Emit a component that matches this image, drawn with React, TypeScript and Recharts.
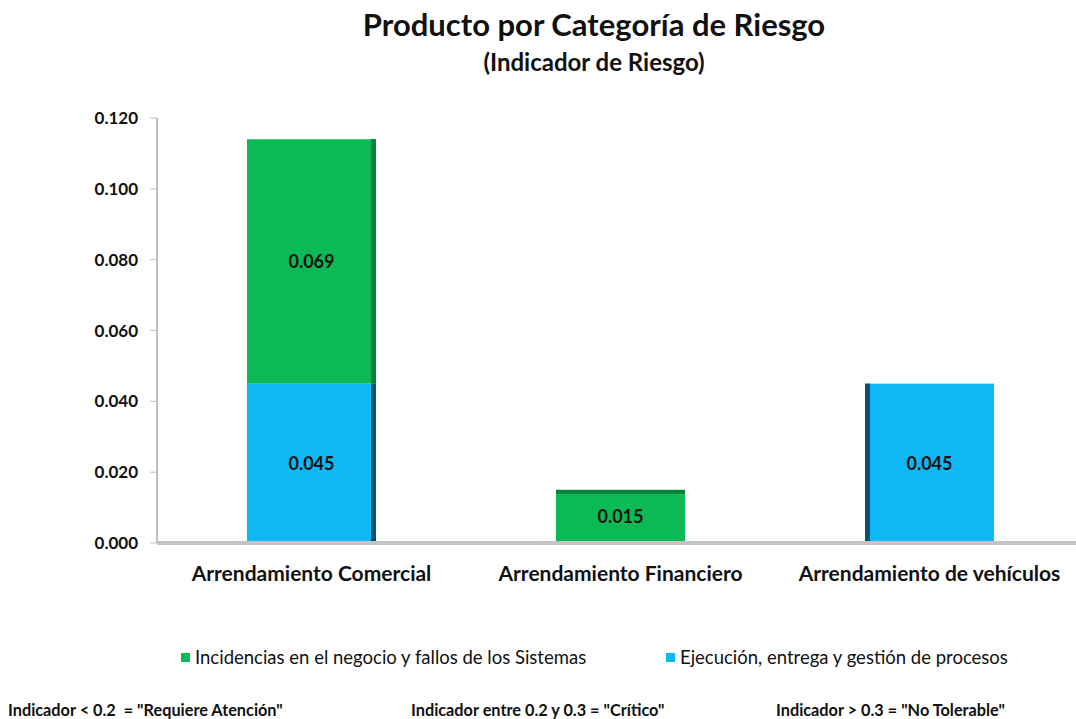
import { BarChart, Bar, XAxis, YAxis, LabelList } from "recharts";

const categories = ["Arrendamiento Comercial", "Arrendamiento Financiero", "Arrendamiento de vehículos"];
const incidencias = [0.069, 0.015, null];
const ejecucion = [0.045, null, 0.045];
const yTicks = [0, 0.02, 0.04, 0.06, 0.08, 0.1, 0.12];
const footerNotes = [
  'Indicador < 0.2  = "Requiere Atención"',
  'Indicador entre 0.2 y 0.3 = "Crítico"',
  'Indicador > 0.3 = "No Tolerable"',
];

const GREEN = "#0bba55";
const GREEN_DARK = "#07803a";
const BLUE = "#0db8f4";
const BLUE_DARK = "#04546f";
const FONT = "Lato, 'Open Sans', sans-serif";

const data = categories.map((c, i) => ({
  name: c,
  incidencias: incidencias[i],
  ejecucion: ejecucion[i],
}));

// bar with a darker side strip to mimic the 3D look
function Bar3D(props: any) {
  const { x, y, width, height, fill, dark, index } = props;
  if (!height || height <= 0) return null;
  const side = 5;
  return (
    <g>
      <rect x={x} y={y} width={width} height={height} fill={fill} />
      {index === 0 && <rect x={x + width - side} y={y} width={side} height={height} fill={dark} />}
      {index === 2 && <rect x={x} y={y} width={side} height={height} fill={dark} />}
      {index === 1 && <rect x={x} y={y} width={width} height={4} fill={dark} />}
    </g>
  );
}

const fmt = (v: any) => (v ? Number(v).toFixed(3) : "");
const labelStyle = { fontSize: 18, fontWeight: 700, fill: "#111", fontFamily: FONT };

export default function App() {
  return (
    <div style={{ position: "absolute", left: 0, top: 0, width: 1076, height: 719, background: "#fff", fontFamily: FONT }}>
      <div style={{ position: "absolute", top: 5, left: 94, width: 1000, textAlign: "center", fontSize: 31, fontWeight: 700, color: "#111" }}>
        Producto por Categoría de Riesgo
      </div>
      <div style={{ position: "absolute", top: 47, left: 94, width: 1000, textAlign: "center", fontSize: 24, fontWeight: 700, color: "#111" }}>
        (Indicador de Riesgo)
      </div>

      <BarChart
        width={1076}
        height={719}
        data={data}
        margin={{ top: 118, right: -8, left: 0, bottom: 116 }}
        style={{ position: "absolute", left: 0, top: 0 }}
      >
        <YAxis
          width={157}
          domain={[0, 0.12]}
          ticks={yTicks}
          interval={0}
          tickFormatter={(v) => Number(v).toFixed(3)}
          tick={{ fontSize: 17, fontWeight: 700, fill: "#111", fontFamily: FONT }}
          tickSize={7}
          tickMargin={12}
          axisLine={{ stroke: "#bfbfbf", strokeWidth: 2 }}
          tickLine={{ stroke: "#bfbfbf" }}
        />
        <XAxis
          dataKey="name"
          height={60}
          tick={{ fontSize: 21, fontWeight: 700, fill: "#111", fontFamily: FONT }}
          tickLine={false}
          tickMargin={17}
          axisLine={{ stroke: "#c4c4c4", strokeWidth: 4 }}
        />
        <Bar
          dataKey="ejecucion"
          stackId="a"
          barSize={129}
          fill={BLUE}
          isAnimationActive={false}
          shape={(p: any) => <Bar3D {...p} fill={BLUE} dark={BLUE_DARK} />}
        >
          <LabelList dataKey="ejecucion" position="center" formatter={fmt} style={labelStyle} />
        </Bar>
        <Bar
          dataKey="incidencias"
          stackId="a"
          barSize={129}
          fill={GREEN}
          isAnimationActive={false}
          shape={(p: any) => <Bar3D {...p} fill={GREEN} dark={GREEN_DARK} />}
        >
          <LabelList dataKey="incidencias" position="center" formatter={fmt} style={labelStyle} />
        </Bar>
      </BarChart>

      <div style={{ position: "absolute", top: 646, left: 181, display: "flex", alignItems: "center", fontSize: 18.5, color: "#111" }}>
        <span style={{ width: 9, height: 9, background: GREEN, marginRight: 5, display: "inline-block" }} />
        Incidencias en el negocio y fallos de los Sistemas
      </div>
      <div style={{ position: "absolute", top: 646, left: 666, display: "flex", alignItems: "center", fontSize: 18.5, color: "#111" }}>
        <span style={{ width: 9, height: 9, background: BLUE, marginRight: 5, display: "inline-block" }} />
        Ejecución, entrega y gestión de procesos
      </div>

      {footerNotes.map((t, i) => (
        <div
          key={t}
          style={{ position: "absolute", top: 700, left: [8, 411, 776][i], fontSize: 16.3, fontWeight: 700, color: "#111", whiteSpace: "pre" }}
        >
          {t}
        </div>
      ))}
    </div>
  );
}
